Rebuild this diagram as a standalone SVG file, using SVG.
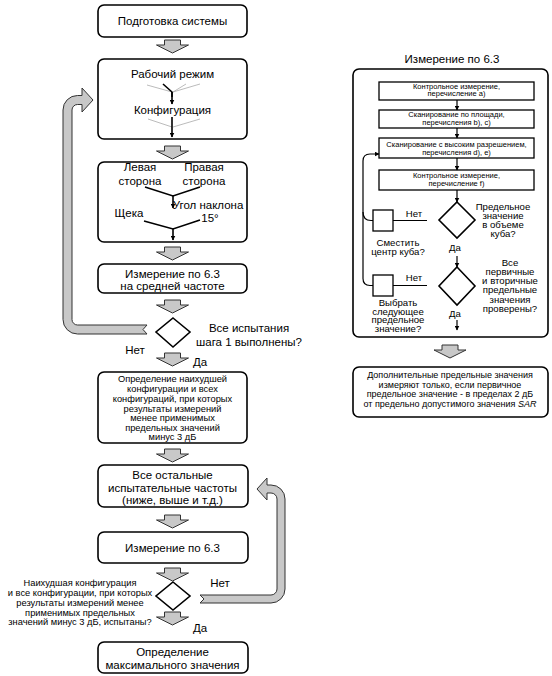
<svg xmlns="http://www.w3.org/2000/svg" width="552" height="676" viewBox="0 0 552 676">
<defs>
<style>
.box{fill:#fff;stroke:#000;stroke-width:1.6}
.rect{fill:#fff;stroke:#000;stroke-width:1.3}
.dia{fill:#fff;stroke:#000;stroke-width:1.6}
.garr{fill:#c8c8c8;stroke:#333;stroke-width:1}
.t{font-family:"Liberation Sans",Arial,sans-serif;fill:#000;text-anchor:middle}
.t11{font-size:11.5px}
.t95{font-size:9.3px}
.t10{font-size:9.6px}
.t9{font-size:9px}
.t75{font-size:7.5px}
.thin{stroke:#aaa;stroke-width:0.8;fill:none}
.blk{stroke:#000;stroke-width:1.6;fill:none}
.con{stroke:#000;stroke-width:1.2;fill:none}
</style>
<marker id="ah" viewBox="0 0 10 10" refX="9" refY="5" markerWidth="5" markerHeight="5" orient="auto" markerUnits="userSpaceOnUse">
<path d="M0,0 L10,5 L0,10 z" fill="#000"/>
</marker>
<path id="ga" d="M-8,0 H8 V5 H16 L0,13 L-16,5 H-8 Z"/>
</defs>
<rect width="552" height="676" fill="#fff"/>

<g id="n1"><rect class="box" x="98" y="5" width="149" height="32" rx="6"/><text class="t t11" x="172.5" y="25">Подготовка системы</text></g>

<g id="n2"><rect class="box" x="98" y="59" width="149" height="80" rx="6"/>
<text class="t t11" x="172.5" y="78">Рабочий режим</text>
<line class="thin" x1="147" y1="85" x2="172" y2="92"/>
<line class="thin" x1="186" y1="84" x2="173" y2="92"/>
<line class="thin" x1="200" y1="84" x2="173" y2="92"/>
<polyline class="blk" points="163,84 172,92 172,97"/>
<line class="blk" x1="172" y1="92" x2="172" y2="104" marker-end="url(#ah)"/>
<text class="t t11" x="172.5" y="114">Конфигурация</text>
<line class="thin" x1="148" y1="119" x2="172" y2="127"/>
<line class="thin" x1="200" y1="119" x2="173" y2="127"/>
<line class="blk" x1="172" y1="117" x2="172" y2="137" marker-end="url(#ah)"/>
</g>

<g id="n3"><rect class="box" x="98" y="162" width="149" height="80" rx="6"/>
<text class="t t11" x="140" y="171">Левая</text>
<text class="t t11" x="140" y="185">сторона</text>
<text class="t t11" x="204" y="171">Правая</text>
<text class="t t11" x="204" y="185">сторона</text>
<polyline class="blk" points="145,187 173,196 200,187"/>
<line class="blk" x1="173" y1="196" x2="173" y2="208" marker-end="url(#ah)"/>
<text class="t t11" x="208" y="209">Угол наклона</text>
<text class="t t11" x="210" y="222">15°</text>
<text class="t t11" x="129" y="217">Щека</text>
<polyline class="blk" points="144,221 173,229 200,220"/>
<line class="blk" x1="173" y1="229" x2="173" y2="240" marker-end="url(#ah)"/>
</g>

<g id="n4"><rect class="box" x="98" y="264" width="149" height="29" rx="6"/>
<text class="t t11" x="172.5" y="278">Измерение по 6.3</text>
<text class="t t11" x="172.5" y="290">на средней частоте</text></g>

<g id="d1"><polygon class="dia" points="173,318 190,332 173,347 156,332"/>
<text class="t t11" x="249" y="332">Все испытания</text>
<text class="t t11" x="249" y="346">шага 1 выполнены?</text>
<text class="t t11" x="135" y="354">Нет</text>
<text class="t t11" x="200" y="366">Да</text></g>

<g id="n5"><rect class="box" x="98" y="372" width="149" height="71" rx="6"/>
<text class="t t95" x="172.5" y="382">Определение наихудшей</text>
<text class="t t95" x="172.5" y="392">конфигурации и всех</text>
<text class="t t95" x="172.5" y="402">конфигураций, при которых</text>
<text class="t t95" x="172.5" y="411.5">результаты измерений</text>
<text class="t t95" x="172.5" y="421">менее применимых</text>
<text class="t t95" x="172.5" y="430.5">предельных значений</text>
<text class="t t95" x="172.5" y="440">минус 3 дБ</text></g>

<g id="n6"><rect class="box" x="98" y="465" width="150" height="42" rx="6"/>
<text class="t t11" x="172.5" y="479">Все остальные</text>
<text class="t t11" x="172.5" y="492">испытательные частоты</text>
<text class="t t11" x="172.5" y="504">(ниже, выше и т.д.)</text></g>

<g id="n7"><rect class="box" x="98" y="532" width="150" height="31" rx="6"/>
<text class="t t11" x="172.5" y="552">Измерение по 6.3</text></g>

<g id="d2"><polygon class="dia" points="173,582 190,596 173,610 156,596"/>
<text class="t t95" x="80" y="586">Наихудшая конфигурация</text>
<text class="t t95" x="80" y="596">и все конфигурации, при которых</text>
<text class="t t95" x="80" y="606">результаты измерений менее</text>
<text class="t t95" x="80" y="615.5">применимых предельных</text>
<text class="t t95" x="80" y="625">значений минус 3 дБ, испытаны?</text>
<text class="t t11" x="220" y="587">Нет</text>
<text class="t t11" x="200" y="632">Да</text></g>

<g id="n8"><rect class="box" x="98" y="642" width="150" height="31" rx="6"/>
<text class="t t11" x="172.5" y="656">Определение</text>
<text class="t t11" x="172.5" y="669">максимального значения</text></g>

<g id="panel"><rect class="box" x="353" y="69" width="195" height="268" rx="6"/>
<text class="t t11" x="452" y="63">Измерение по 6.3</text></g>

<g id="r1"><rect class="rect" x="379" y="82" width="155" height="18"/>
<text class="t t75" x="456.5" y="88.5">Контрольное измерение,</text>
<text class="t t75" x="456.5" y="96">перечисление а)</text></g>
<g id="r2"><rect class="rect" x="379" y="110" width="155" height="18"/>
<text class="t t75" x="456.5" y="117">Сканирование по площади,</text>
<text class="t t75" x="456.5" y="125">перечисления b), c)</text></g>
<g id="r3"><rect class="rect" x="379" y="138" width="155" height="20"/>
<text class="t t75" x="456.5" y="146.5">Сканирование с высоким разрешением,</text>
<text class="t t75" x="456.5" y="154.5">перечисления d), e)</text></g>
<g id="r4"><rect class="rect" x="379" y="170" width="155" height="20"/>
<text class="t t75" x="456.5" y="177.5">Контрольное измерение,</text>
<text class="t t75" x="456.5" y="185.5">перечисление f)</text></g>

<g id="rd1"><polygon class="dia" points="457,202 475,220 457,238 439,220"/>
<text class="t t10" x="503" y="209.5">Предельное</text>
<text class="t t10" x="503" y="219">значение</text>
<text class="t t10" x="503" y="228">в объеме</text>
<text class="t t10" x="503" y="237">куба?</text>
<text class="t t10" x="455" y="250.5">Да</text></g>

<g id="s1"><rect class="rect" x="373" y="210" width="20" height="21"/>
<text class="t t10" x="414" y="216.5">Нет</text>
<text class="t t10" x="398" y="245.5">Сместить</text>
<text class="t t10" x="398" y="254.5">центр куба?</text></g>

<g id="rd2"><polygon class="dia" points="457,267 475,286 457,305 439,286"/>
<text class="t t10" x="510" y="265.5">Все</text>
<text class="t t10" x="510" y="274.5">первичные</text>
<text class="t t10" x="510" y="284">и вторичные</text>
<text class="t t10" x="510" y="293">предельные</text>
<text class="t t10" x="510" y="302.5">значения</text>
<text class="t t10" x="510" y="312">проверены?</text>
<text class="t t10" x="455" y="316.5">Да</text></g>

<g id="s2"><rect class="rect" x="373" y="275" width="20" height="21"/>
<text class="t t10" x="414" y="280.5">Нет</text>
<text class="t t10" x="398" y="305.5">Выбрать</text>
<text class="t t10" x="398" y="314.5">следующее</text>
<text class="t t10" x="398" y="323">предельное</text>
<text class="t t10" x="398" y="332">значение?</text></g>

<g id="n9"><rect class="box" x="353" y="367" width="195" height="50" rx="6"/>
<text class="t t9" x="450" y="378">Дополнительные предельные значения</text>
<text class="t t9" x="450" y="387.5">измеряют только, если первичное</text>
<text class="t t9" x="450" y="397">предельное значение - в пределах 2 дБ</text>
<text class="t t9" x="450" y="406.5">от предельно допустимого значения <tspan font-style="italic">SAR</tspan></text></g>

<g id="connectors">
<use href="#ga" class="garr" x="172.5" y="40"/>
<use href="#ga" class="garr" x="172.5" y="146"/>
<use href="#ga" class="garr" x="172.5" y="247"/>
<use href="#ga" class="garr" x="172.5" y="300"/>
<use href="#ga" class="garr" x="172.5" y="353"/>
<use href="#ga" class="garr" x="172.5" y="449"/>
<use href="#ga" class="garr" x="172.5" y="515"/>
<use href="#ga" class="garr" x="172.5" y="568"/>
<use href="#ga" class="garr" x="172.5" y="612"/>
<use href="#ga" class="garr" x="450" y="345"/>
<path class="garr" d="M147,325 L77.5,325 A5.5,5.5 0 0 1 72,319.5 L72,110 A5.5,5.5 0 0 1 77.5,104.5 L82,104.5 L82,112 L93,100 L82,88 L82,95.5 L77.5,95.5 A14.5,14.5 0 0 0 63,110 L63,319.5 A14.5,14.5 0 0 0 77.5,334 L147,334 L143,329.5 Z"/>
<path class="garr" d="M200,595 L271,595 A6,6 0 0 0 277,589 L277,499 A6,6 0 0 0 271,493 L267,493 L267,500 L257,489 L267,478 L267,485 L271,485 A14,14 0 0 1 285,499 L285,589 A14,14 0 0 1 271,603 L200,603 L204,599 Z"/>
<line class="con" x1="457" y1="100" x2="457" y2="110" marker-end="url(#ah)"/>
<line class="con" x1="457" y1="128" x2="457" y2="138" marker-end="url(#ah)"/>
<line class="con" x1="457" y1="158" x2="457" y2="170" marker-end="url(#ah)"/>
<line class="con" x1="457" y1="190" x2="457" y2="202" marker-end="url(#ah)"/>
<line class="con" x1="457" y1="256" x2="457" y2="267" marker-end="url(#ah)"/>
<line class="con" x1="457" y1="320" x2="457" y2="330" marker-end="url(#ah)"/>
<line class="con" x1="393" y1="220.5" x2="427" y2="220.5"/>
<line class="con" x1="393" y1="285.5" x2="427" y2="285.5"/>
<path class="con" d="M373,285.5 H370 Q363,285.5 363,278.5 V161 Q363,154 370,154 H379" marker-end="url(#ah)"/>
<path class="con" d="M363,212 Q363,220.5 371,220.5 H373"/>
</g>
</svg>
